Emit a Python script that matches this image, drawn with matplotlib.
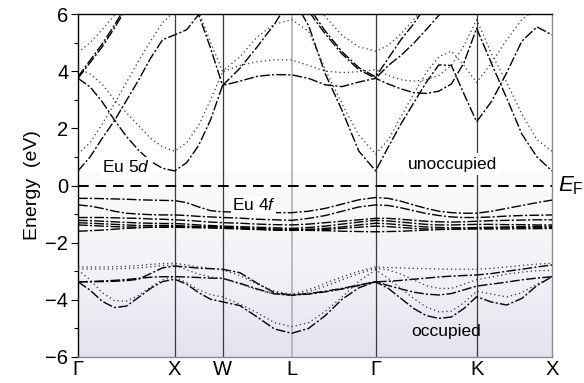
import numpy as np
import matplotlib
matplotlib.use("Agg")
import matplotlib.pyplot as plt
from matplotlib.colors import LinearSegmentedColormap

plt.rcParams['font.family'] = ['Liberation Sans', 'DejaVu Sans']
plt.rcParams['mathtext.fontset'] = 'custom'
plt.rcParams['mathtext.rm'] = 'Liberation Sans'
plt.rcParams['mathtext.it'] = 'Liberation Sans:italic'

# ---------------- data ----------------
k_labels = ['Γ', 'X', 'W', 'L', 'Γ', 'K', 'X']
k_hs = [0.0, 0.204, 0.305, 0.451, 0.628, 0.841, 1.0]
seg_points = [9, 5, 5, 6, 9, 6]   # samples per path segment (incl. both ends)

# conduction (Eu 5d) bands, spin up (dash-dot)
c1 = ([0.51, 1.0, 1.65, 2.26, 2.97, 3.68, 4.45, 5.1, 5.27] + [5.45, 5.98, 4.8, 3.5] +
      [4.1, 4.85, 5.65, 6.6] + [5.6, 3.9, 2.62, 1.2, 0.51] +
      [1.35, 2.15, 2.88, 3.6, 4.22, 4.2, 3.2, 2.23] + [2.95, 3.95, 5.05, 5.55, 5.27])
c2 = ([3.75, 3.45, 2.93, 2.3, 1.72, 1.24, 0.85, 0.6, 0.51] + [0.8, 1.4, 2.3, 3.5] +
      [3.65, 3.82, 3.88, 3.87] + [3.75, 3.52, 3.46, 3.62, 3.75] +
      [3.55, 3.38, 3.25, 3.22, 3.3, 3.55, 4.3, 5.5] + [4.25, 3.05, 1.8, 1.0, 0.51])
c3 = ([3.75, 4.3, 4.85, 5.5, 6.2, 6.8, 7.2, 7.5, 7.5] + [7.5, 7.5, 7.5, 7.5] +
      [7.5, 7.5, 7.5, 7.0] + [6.1, 5.3, 4.6, 4.05, 3.75] +
      [4.2, 4.55, 4.97, 5.45, 5.95, 6.5, 7.0, 7.5] + [7.5, 7.5, 7.5, 7.5, 7.5])
c4 = ([3.8, 4.38, 4.95, 5.6, 6.3, 7.0, 7.5, 7.5, 7.5] + [7.5, 7.5, 7.5, 7.5] +
      [7.5, 7.5, 7.5, 7.2] + [6.25, 5.4, 4.68, 4.12, 3.8] +
      [4.45, 5.1, 5.65, 6.3, 7.0, 7.5, 7.5, 7.5] + [7.5, 7.5, 7.5, 7.5, 7.5])
# conduction bands, spin down (dotted)
d1 = ([1.1, 1.5, 2.15, 2.85, 3.6, 4.35, 5.05, 5.7, 6.1] + [6.3, 6.1, 5.0, 4.0] +
      [4.5, 5.2, 5.65, 5.8] + [5.4, 4.05, 2.85, 1.75, 1.1] +
      [1.6, 2.4, 3.2, 3.95, 4.5, 4.7, 4.2, 3.6] + [4.3, 5.1, 5.8, 6.2, 6.3])
d2 = ([4.1, 3.9, 3.55, 3.0, 2.55, 2.1, 1.65, 1.35, 1.2] + [1.5, 2.1, 3.0, 3.98] +
      [4.2, 4.33, 4.4, 4.39] + [4.2, 4.0, 3.95, 3.98, 4.05] +
      [3.85, 3.7, 3.65, 3.7, 3.85, 4.2, 4.9, 5.8] + [4.6, 3.6, 2.5, 1.6, 1.2])
d3 = ([4.65, 5.0, 5.45, 5.95, 6.5, 7.0, 7.5, 7.5, 7.5] + [7.5, 7.5, 7.5, 7.5] +
      [7.5, 7.5, 7.5, 7.2] + [6.6, 5.9, 5.25, 4.85, 4.7] +
      [4.9, 5.3, 5.8, 6.3, 7.0, 7.5, 7.5, 7.5] + [7.5, 7.5, 7.5, 7.5, 7.5])

# Eu 4f bands (dash-dot)
f1 = ([-0.45, -0.45, -0.46, -0.47, -0.48, -0.5, -0.51, -0.52, -0.53] + [-0.6, -0.75, -0.88, -0.92] +
      [-0.93, -0.95, -0.95, -0.95] + [-0.9, -0.8, -0.65, -0.5, -0.42] +
      [-0.45, -0.55, -0.68, -0.8, -0.9, -0.95, -0.97, -0.97] + [-0.9, -0.8, -0.7, -0.6, -0.51])
f2 = ([-0.68, -0.72, -0.8, -0.9, -0.97, -1.0, -1.02, -1.03, -1.03] + [-1.05, -1.08, -1.1, -1.12] +
      [-1.14, -1.18, -1.2, -1.22] + [-1.15, -1.05, -0.9, -0.75, -0.68] +
      [-0.7, -0.78, -0.88, -0.98, -1.05, -1.1, -1.12, -1.12] + [-1.1, -1.07, -1.05, -1.04, -1.03])
f3 = ([-1.12, -1.12, -1.12, -1.13, -1.14, -1.15, -1.17, -1.18, -1.2] + [-1.22, -1.25, -1.28, -1.3] +
      [-1.32, -1.35, -1.37, -1.38] + [-1.35, -1.3, -1.25, -1.2, -1.15] +
      [-1.15, -1.18, -1.22, -1.25, -1.27, -1.28, -1.27, -1.25] + [-1.23, -1.22, -1.21, -1.2, -1.2])
f4 = ([-1.22, -1.23, -1.25, -1.27, -1.29, -1.31, -1.32, -1.33, -1.33] + [-1.35, -1.38, -1.4, -1.42] +
      [-1.44, -1.46, -1.48, -1.5] + [-1.47, -1.42, -1.35, -1.28, -1.22] +
      [-1.24, -1.28, -1.32, -1.36, -1.38, -1.38, -1.37, -1.36] + [-1.36, -1.37, -1.37, -1.38, -1.38])
f5 = ([-1.3, -1.32, -1.34, -1.36, -1.38, -1.4, -1.4, -1.4, -1.4] + [-1.42, -1.43, -1.44, -1.45] +
      [-1.48, -1.5, -1.52, -1.54] + [-1.53, -1.5, -1.45, -1.38, -1.32] +
      [-1.34, -1.38, -1.42, -1.45, -1.47, -1.48, -1.48, -1.47] + [-1.46, -1.45, -1.44, -1.43, -1.43])
f6 = ([-1.38, -1.4, -1.42, -1.44, -1.45, -1.46, -1.46, -1.46, -1.46] + [-1.47, -1.48, -1.49, -1.5] +
      [-1.52, -1.54, -1.56, -1.57] + [-1.56, -1.54, -1.5, -1.46, -1.42] +
      [-1.44, -1.47, -1.5, -1.52, -1.53, -1.53, -1.52, -1.5] + [-1.49, -1.48, -1.48, -1.48, -1.48])
f7 = ([-1.6, -1.58, -1.56, -1.53, -1.5, -1.48, -1.46, -1.45, -1.44] + [-1.44, -1.45, -1.45, -1.46] +
      [-1.5, -1.53, -1.55, -1.56] + [-1.57, -1.58, -1.6, -1.61, -1.62] +
      [-1.61, -1.6, -1.58, -1.56, -1.54, -1.53, -1.52, -1.52] + [-1.52, -1.52, -1.51, -1.51, -1.5])

# O 2p bands, spin up (dash-dot)
p1 = ([-3.37, -3.37, -3.36, -3.35, -3.33, -3.28, -3.08, -2.88, -2.82] + [-2.85, -2.89, -2.91, -2.93] +
      [-3.05, -3.42, -3.75, -3.83] + [-3.78, -3.7, -3.6, -3.48, -3.37] +
      [-3.35, -3.32, -3.28, -3.24, -3.2, -3.17, -3.15, -3.13] + [-3.08, -3.0, -2.93, -2.85, -2.78])
p2 = ([-3.37, -3.36, -3.34, -3.32, -3.29, -3.25, -3.21, -3.19, -3.19] + [-3.2, -3.22, -3.24, -3.25] +
      [-3.42, -3.62, -3.79, -3.84] + [-3.8, -3.72, -3.62, -3.5, -3.37] +
      [-3.5, -3.62, -3.73, -3.8, -3.83, -3.78, -3.65, -3.52] + [-3.45, -3.38, -3.3, -3.24, -3.19])
p3 = ([-3.37, -3.66, -4.05, -4.27, -4.22, -3.92, -3.6, -3.36, -3.28] + [-3.45, -3.75, -3.98, -4.07] +
      [-4.2, -4.6, -5.02, -5.17] + [-5.0, -4.55, -3.98, -3.58, -3.37] +
      [-3.6, -3.95, -4.3, -4.55, -4.65, -4.6, -4.3, -3.89] + [-4.08, -4.18, -3.95, -3.5, -3.19])
# O 2p bands, spin down (dotted)
q1 = ([-2.85, -2.85, -2.85, -2.84, -2.83, -2.8, -2.76, -2.73, -2.72] + [-2.78, -2.85, -2.9, -2.95] +
      [-3.15, -3.45, -3.7, -3.8] + [-3.65, -3.42, -3.2, -3.0, -2.85] +
      [-2.87, -2.88, -2.9, -2.91, -2.92, -2.93, -2.93, -2.93] + [-2.9, -2.85, -2.8, -2.75, -2.72])
q2 = ([-2.92, -2.92, -2.92, -2.92, -2.9, -2.88, -2.85, -2.8, -2.78] + [-2.95, -3.1, -3.2, -3.25] +
      [-3.45, -3.65, -3.8, -3.85] + [-3.72, -3.52, -3.3, -3.08, -2.9] +
      [-2.95, -3.1, -3.3, -3.5, -3.6, -3.6, -3.45, -3.3] + [-3.2, -3.1, -3.03, -2.98, -2.97])
q3 = ([-2.95, -3.3, -3.75, -4.02, -4.05, -3.85, -3.55, -3.3, -3.2] + [-3.4, -3.65, -3.82, -3.9] +
      [-4.15, -4.45, -4.8, -4.94] + [-4.8, -4.4, -3.9, -3.35, -2.95] +
      [-3.25, -3.6, -3.95, -4.25, -4.42, -4.4, -4.1, -3.7] + [-3.8, -3.9, -3.75, -3.45, -3.2])

spin_up = [c1, c2, c3, c4, f1, f2, f3, f4, f5, f6, f7, p1, p2, p3]
spin_dn = [d1, d2, d3, q1, q2, q3]

# ---------------- k grid ----------------
k = []
for i, n in enumerate(seg_points):
    seg = np.linspace(k_hs[i], k_hs[i + 1], n)
    k.extend(seg if i == 0 else seg[1:])
k = np.array(k)

# ---------------- figure ----------------
fig = plt.figure(figsize=(5.84, 3.83), dpi=100)
ax = fig.add_axes([78 / 584, 26 / 383, 474 / 584, 343 / 383])
ax.set_xlim(0, 1)
ax.set_ylim(-6, 6)

# background gradient below ~0.5 eV
cmap = LinearSegmentedColormap.from_list('bg', ['#e3e3f0', '#f3f3f7', '#fbfbfc'])
grad = np.linspace(0, 1, 256).reshape(-1, 1)
ax.imshow(grad, extent=[0, 1, -6, 0.5], origin='lower', aspect='auto',
          cmap=cmap, zorder=0)

# high-symmetry vertical lines
for i, x in enumerate(k_hs[1:-1]):
    if k_labels[i + 1] == 'L':
        ax.axvline(x, color='#b0b0b0', lw=1.2, zorder=1)
    else:
        ax.axvline(x, color='#3a3a3a', lw=0.9, zorder=1)

for band in spin_up:
    ax.plot(k, band, color='black', lw=1.0, linestyle=(0, (7, 1.6, 1.5, 1.6)), zorder=3)
for band in spin_dn:
    ax.plot(k, band, color='#333333', lw=0.9, linestyle=(0, (1, 2.4)), zorder=3)

ax.axhline(0, color='black', lw=1.4, dashes=(5.5, 3.5), zorder=4)

# texts
ax.text(0.05, 0.63, 'Eu 5$d$', fontsize=12.5, va='center', ha='left', zorder=5,
        bbox=dict(facecolor='white', edgecolor='none', pad=1.5))
ax.text(0.696, 0.75, 'unoccupied', fontsize=12.5, va='center', ha='left', zorder=5,
        bbox=dict(facecolor='white', edgecolor='none', pad=2.5))
ax.text(0.324, -0.68, 'Eu 4$f$', fontsize=12.5, va='center', ha='left', zorder=5,
        bbox=dict(facecolor='white', edgecolor='none', pad=0.5))
ax.text(0.704, -5.12, 'occupied', fontsize=12.5, va='center', ha='left', zorder=5)
ax.text(1.012, 0.0, '$E_{\\mathrm{F}}$', transform=ax.get_yaxis_transform(),
        fontsize=16, va='center', ha='left')

# axes styling
ax.set_xticks(k_hs)
ax.set_xticklabels(k_labels)
ax.tick_params(axis='x', length=0, pad=2, labelsize=14.5)
ax.set_yticks([-6, -4, -2, 0, 2, 4, 6])
ax.set_yticklabels(['−6', '−4', '−2', '0', '2', '4', '6'])
ax.set_yticks([-5, -3, -1, 1, 3, 5], minor=True)
ax.tick_params(axis='y', which='major', direction='out', length=5, width=0.8, labelsize=14.5, pad=2)
ax.tick_params(axis='y', which='minor', direction='out', length=3, width=0.8)
ax.set_ylabel('Energy  (eV)', fontsize=14, labelpad=3)

ax.spines['left'].set_color('black')
ax.spines['top'].set_color('black')
ax.spines['right'].set_color('#8a8a8a')
ax.spines['bottom'].set_color('#8a8a8a')
for s in ax.spines.values():
    s.set_linewidth(1.0)

fig.savefig('out.png', dpi=100)
